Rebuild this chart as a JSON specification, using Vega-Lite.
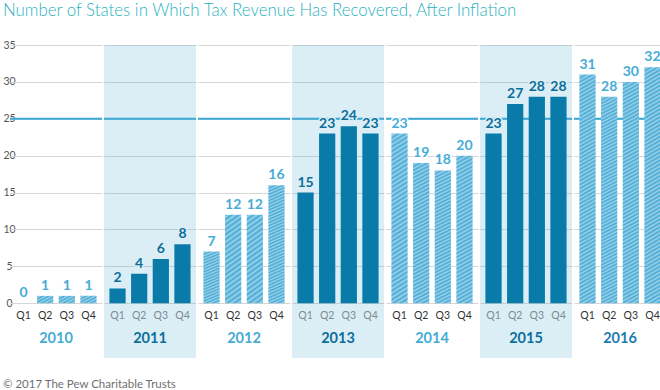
{
  "$schema": "https://vega.github.io/schema/vega-lite/v6.json",
  "padding": {"left": 2, "top": 2, "right": 0, "bottom": 0},
  "title": {"text": "Number of States in Which Tax Revenue Has Recovered, After Inflation", "anchor": "start", "frame": "bounds", "font": "Lato", "fontSize": 16.9, "fontWeight": 300, "color": "#2bb2c0", "offset": 20},
  "data": {"values": [
    {"year": 2010, "q": "Q1", "v": 0}, {"year": 2010, "q": "Q2", "v": 1}, {"year": 2010, "q": "Q3", "v": 1}, {"year": 2010, "q": "Q4", "v": 1},
    {"year": 2011, "q": "Q1", "v": 2}, {"year": 2011, "q": "Q2", "v": 4}, {"year": 2011, "q": "Q3", "v": 6}, {"year": 2011, "q": "Q4", "v": 8},
    {"year": 2012, "q": "Q1", "v": 7}, {"year": 2012, "q": "Q2", "v": 12}, {"year": 2012, "q": "Q3", "v": 12}, {"year": 2012, "q": "Q4", "v": 16},
    {"year": 2013, "q": "Q1", "v": 15}, {"year": 2013, "q": "Q2", "v": 23}, {"year": 2013, "q": "Q3", "v": 24}, {"year": 2013, "q": "Q4", "v": 23},
    {"year": 2014, "q": "Q1", "v": 23}, {"year": 2014, "q": "Q2", "v": 19}, {"year": 2014, "q": "Q3", "v": 18}, {"year": 2014, "q": "Q4", "v": 20},
    {"year": 2015, "q": "Q1", "v": 23}, {"year": 2015, "q": "Q2", "v": 27}, {"year": 2015, "q": "Q3", "v": 28}, {"year": 2015, "q": "Q4", "v": 28},
    {"year": 2016, "q": "Q1", "v": 31}, {"year": 2016, "q": "Q2", "v": 28}, {"year": 2016, "q": "Q3", "v": 30}, {"year": 2016, "q": "Q4", "v": 32}
  ]},
  "vconcat": [{
    "title": {"text": "© 2017 The Pew Charitable Trusts", "orient": "bottom", "anchor": "start", "frame": "bounds", "font": "Lato", "fontSize": 11.5, "fontWeight": "normal", "color": "#6f6f6f", "offset": 21},
    "facet": {"column": {"field": "year", "type": "ordinal", "header": null}},
    "spacing": 0,
    "spec": {
      "width": 92,
      "height": 313,
      "layer": [
        {
          "transform": [{"filter": "datum.year % 2 == 1 && datum.q == 'Q1'"}],
          "mark": {"type": "rect", "fill": "#4aa8d0", "fillOpacity": 0.2},
          "encoding": {"y": {"datum": 35}, "y2": {"datum": -7.42}}
        },
        {
          "transform": [{"filter": "datum.q == 'Q1'"}],
          "mark": {"type": "rule", "color": "#3aa8d4", "strokeWidth": 2},
          "encoding": {"y": {"datum": 25}}
        },
        {
          "mark": {"type": "bar"},
          "encoding": {
            "x": {"field": "q", "type": "nominal", "axis": null, "scale": {"paddingInner": 0.25, "paddingOuter": 0.25}},
            "y": {"field": "v", "type": "quantitative", "scale": {"domain": [-7.42, 35], "nice": false},
                  "axis": {"values": [0, 5, 10, 15, 20, 25, 30, 35], "title": null, "grid": true, "gridColor": "#d6d6d6", "domain": false, "ticks": false, "tickSize": 0, "labelAlign": "center", "labelPadding": 0, "labelFont": "Lato", "labelFontSize": 10.5, "labelColor": "#555555"}},
            "y2": {"datum": 0},
            "fill": {"condition": [
              {"test": "datum.year % 2 == 1", "value": "#0a7ba9"},
              {"test": "datum.v >= 25", "value": {"gradient": "linear", "x1": 0, "y1": 0, "x2": 0.0415, "y2": 1.0383, "stops": [
                {"offset": 0, "color": "#45a9d4"}, {"offset": 0.008, "color": "#9dd2ea"}, {"offset": 0.016, "color": "#45a9d4"}, {"offset": 0.024, "color": "#9dd2ea"}, {"offset": 0.032, "color": "#45a9d4"}, {"offset": 0.04, "color": "#9dd2ea"}, {"offset": 0.048, "color": "#45a9d4"}, {"offset": 0.056, "color": "#9dd2ea"}, {"offset": 0.064, "color": "#45a9d4"}, {"offset": 0.072, "color": "#9dd2ea"},
                {"offset": 0.08, "color": "#45a9d4"}, {"offset": 0.088, "color": "#9dd2ea"}, {"offset": 0.096, "color": "#45a9d4"}, {"offset": 0.104, "color": "#9dd2ea"}, {"offset": 0.112, "color": "#45a9d4"}, {"offset": 0.12, "color": "#9dd2ea"}, {"offset": 0.128, "color": "#45a9d4"}, {"offset": 0.136, "color": "#9dd2ea"}, {"offset": 0.144, "color": "#45a9d4"}, {"offset": 0.152, "color": "#9dd2ea"},
                {"offset": 0.16, "color": "#45a9d4"}, {"offset": 0.168, "color": "#9dd2ea"}, {"offset": 0.176, "color": "#45a9d4"}, {"offset": 0.184, "color": "#9dd2ea"}, {"offset": 0.192, "color": "#45a9d4"}, {"offset": 0.2, "color": "#9dd2ea"}, {"offset": 0.208, "color": "#45a9d4"}, {"offset": 0.216, "color": "#9dd2ea"}, {"offset": 0.224, "color": "#45a9d4"}, {"offset": 0.232, "color": "#9dd2ea"},
                {"offset": 0.24, "color": "#45a9d4"}, {"offset": 0.248, "color": "#9dd2ea"}, {"offset": 0.256, "color": "#45a9d4"}, {"offset": 0.264, "color": "#9dd2ea"}, {"offset": 0.272, "color": "#45a9d4"}, {"offset": 0.28, "color": "#9dd2ea"}, {"offset": 0.288, "color": "#45a9d4"}, {"offset": 0.296, "color": "#9dd2ea"}, {"offset": 0.304, "color": "#45a9d4"}, {"offset": 0.312, "color": "#9dd2ea"},
                {"offset": 0.32, "color": "#45a9d4"}, {"offset": 0.328, "color": "#9dd2ea"}, {"offset": 0.336, "color": "#45a9d4"}, {"offset": 0.344, "color": "#9dd2ea"}, {"offset": 0.352, "color": "#45a9d4"}, {"offset": 0.36, "color": "#9dd2ea"}, {"offset": 0.368, "color": "#45a9d4"}, {"offset": 0.376, "color": "#9dd2ea"}, {"offset": 0.384, "color": "#45a9d4"}, {"offset": 0.392, "color": "#9dd2ea"},
                {"offset": 0.4, "color": "#45a9d4"}, {"offset": 0.408, "color": "#9dd2ea"}, {"offset": 0.416, "color": "#45a9d4"}, {"offset": 0.424, "color": "#9dd2ea"}, {"offset": 0.432, "color": "#45a9d4"}, {"offset": 0.44, "color": "#9dd2ea"}, {"offset": 0.448, "color": "#45a9d4"}, {"offset": 0.456, "color": "#9dd2ea"}, {"offset": 0.464, "color": "#45a9d4"}, {"offset": 0.472, "color": "#9dd2ea"},
                {"offset": 0.48, "color": "#45a9d4"}, {"offset": 0.488, "color": "#9dd2ea"}, {"offset": 0.496, "color": "#45a9d4"}, {"offset": 0.504, "color": "#9dd2ea"}, {"offset": 0.512, "color": "#45a9d4"}, {"offset": 0.52, "color": "#9dd2ea"}, {"offset": 0.528, "color": "#45a9d4"}, {"offset": 0.536, "color": "#9dd2ea"}, {"offset": 0.544, "color": "#45a9d4"}, {"offset": 0.552, "color": "#9dd2ea"},
                {"offset": 0.56, "color": "#45a9d4"}, {"offset": 0.568, "color": "#9dd2ea"}, {"offset": 0.576, "color": "#45a9d4"}, {"offset": 0.584, "color": "#9dd2ea"}, {"offset": 0.592, "color": "#45a9d4"}, {"offset": 0.6, "color": "#9dd2ea"}, {"offset": 0.608, "color": "#45a9d4"}, {"offset": 0.616, "color": "#9dd2ea"}, {"offset": 0.624, "color": "#45a9d4"}, {"offset": 0.632, "color": "#9dd2ea"},
                {"offset": 0.64, "color": "#45a9d4"}, {"offset": 0.648, "color": "#9dd2ea"}, {"offset": 0.656, "color": "#45a9d4"}, {"offset": 0.664, "color": "#9dd2ea"}, {"offset": 0.672, "color": "#45a9d4"}, {"offset": 0.68, "color": "#9dd2ea"}, {"offset": 0.688, "color": "#45a9d4"}, {"offset": 0.696, "color": "#9dd2ea"}, {"offset": 0.704, "color": "#45a9d4"}, {"offset": 0.712, "color": "#9dd2ea"},
                {"offset": 0.72, "color": "#45a9d4"}, {"offset": 0.728, "color": "#9dd2ea"}, {"offset": 0.736, "color": "#45a9d4"}, {"offset": 0.744, "color": "#9dd2ea"}, {"offset": 0.752, "color": "#45a9d4"}, {"offset": 0.76, "color": "#9dd2ea"}, {"offset": 0.768, "color": "#45a9d4"}, {"offset": 0.776, "color": "#9dd2ea"}, {"offset": 0.784, "color": "#45a9d4"}, {"offset": 0.792, "color": "#9dd2ea"},
                {"offset": 0.8, "color": "#45a9d4"}, {"offset": 0.808, "color": "#9dd2ea"}, {"offset": 0.816, "color": "#45a9d4"}, {"offset": 0.824, "color": "#9dd2ea"}, {"offset": 0.832, "color": "#45a9d4"}, {"offset": 0.84, "color": "#9dd2ea"}, {"offset": 0.848, "color": "#45a9d4"}, {"offset": 0.856, "color": "#9dd2ea"}, {"offset": 0.864, "color": "#45a9d4"}, {"offset": 0.872, "color": "#9dd2ea"},
                {"offset": 0.88, "color": "#45a9d4"}, {"offset": 0.888, "color": "#9dd2ea"}, {"offset": 0.896, "color": "#45a9d4"}, {"offset": 0.904, "color": "#9dd2ea"}, {"offset": 0.912, "color": "#45a9d4"}, {"offset": 0.92, "color": "#9dd2ea"}, {"offset": 0.928, "color": "#45a9d4"}, {"offset": 0.936, "color": "#9dd2ea"}, {"offset": 0.944, "color": "#45a9d4"}, {"offset": 0.952, "color": "#9dd2ea"},
                {"offset": 0.96, "color": "#45a9d4"}, {"offset": 0.968, "color": "#9dd2ea"}, {"offset": 0.976, "color": "#45a9d4"}, {"offset": 0.984, "color": "#9dd2ea"}, {"offset": 0.992, "color": "#45a9d4"}, {"offset": 1, "color": "#9dd2ea"}
              ]}},
              {"test": "datum.v >= 15", "value": {"gradient": "linear", "x1": 0, "y1": 0, "x2": 0.0634, "y2": 1.0562, "stops": [
                {"offset": 0, "color": "#45a9d4"}, {"offset": 0.0125, "color": "#9dd2ea"}, {"offset": 0.025, "color": "#45a9d4"}, {"offset": 0.0375, "color": "#9dd2ea"}, {"offset": 0.05, "color": "#45a9d4"}, {"offset": 0.0625, "color": "#9dd2ea"}, {"offset": 0.075, "color": "#45a9d4"}, {"offset": 0.0875, "color": "#9dd2ea"},
                {"offset": 0.1, "color": "#45a9d4"}, {"offset": 0.1125, "color": "#9dd2ea"}, {"offset": 0.125, "color": "#45a9d4"}, {"offset": 0.1375, "color": "#9dd2ea"}, {"offset": 0.15, "color": "#45a9d4"}, {"offset": 0.1625, "color": "#9dd2ea"}, {"offset": 0.175, "color": "#45a9d4"}, {"offset": 0.1875, "color": "#9dd2ea"},
                {"offset": 0.2, "color": "#45a9d4"}, {"offset": 0.2125, "color": "#9dd2ea"}, {"offset": 0.225, "color": "#45a9d4"}, {"offset": 0.2375, "color": "#9dd2ea"}, {"offset": 0.25, "color": "#45a9d4"}, {"offset": 0.2625, "color": "#9dd2ea"}, {"offset": 0.275, "color": "#45a9d4"}, {"offset": 0.2875, "color": "#9dd2ea"},
                {"offset": 0.3, "color": "#45a9d4"}, {"offset": 0.3125, "color": "#9dd2ea"}, {"offset": 0.325, "color": "#45a9d4"}, {"offset": 0.3375, "color": "#9dd2ea"}, {"offset": 0.35, "color": "#45a9d4"}, {"offset": 0.3625, "color": "#9dd2ea"}, {"offset": 0.375, "color": "#45a9d4"}, {"offset": 0.3875, "color": "#9dd2ea"},
                {"offset": 0.4, "color": "#45a9d4"}, {"offset": 0.4125, "color": "#9dd2ea"}, {"offset": 0.425, "color": "#45a9d4"}, {"offset": 0.4375, "color": "#9dd2ea"}, {"offset": 0.45, "color": "#45a9d4"}, {"offset": 0.4625, "color": "#9dd2ea"}, {"offset": 0.475, "color": "#45a9d4"}, {"offset": 0.4875, "color": "#9dd2ea"},
                {"offset": 0.5, "color": "#45a9d4"}, {"offset": 0.5125, "color": "#9dd2ea"}, {"offset": 0.525, "color": "#45a9d4"}, {"offset": 0.5375, "color": "#9dd2ea"}, {"offset": 0.55, "color": "#45a9d4"}, {"offset": 0.5625, "color": "#9dd2ea"}, {"offset": 0.575, "color": "#45a9d4"}, {"offset": 0.5875, "color": "#9dd2ea"},
                {"offset": 0.6, "color": "#45a9d4"}, {"offset": 0.6125, "color": "#9dd2ea"}, {"offset": 0.625, "color": "#45a9d4"}, {"offset": 0.6375, "color": "#9dd2ea"}, {"offset": 0.65, "color": "#45a9d4"}, {"offset": 0.6625, "color": "#9dd2ea"}, {"offset": 0.675, "color": "#45a9d4"}, {"offset": 0.6875, "color": "#9dd2ea"},
                {"offset": 0.7, "color": "#45a9d4"}, {"offset": 0.7125, "color": "#9dd2ea"}, {"offset": 0.725, "color": "#45a9d4"}, {"offset": 0.7375, "color": "#9dd2ea"}, {"offset": 0.75, "color": "#45a9d4"}, {"offset": 0.7625, "color": "#9dd2ea"}, {"offset": 0.775, "color": "#45a9d4"}, {"offset": 0.7875, "color": "#9dd2ea"},
                {"offset": 0.8, "color": "#45a9d4"}, {"offset": 0.8125, "color": "#9dd2ea"}, {"offset": 0.825, "color": "#45a9d4"}, {"offset": 0.8375, "color": "#9dd2ea"}, {"offset": 0.85, "color": "#45a9d4"}, {"offset": 0.8625, "color": "#9dd2ea"}, {"offset": 0.875, "color": "#45a9d4"}, {"offset": 0.8875, "color": "#9dd2ea"},
                {"offset": 0.9, "color": "#45a9d4"}, {"offset": 0.9125, "color": "#9dd2ea"}, {"offset": 0.925, "color": "#45a9d4"}, {"offset": 0.9375, "color": "#9dd2ea"}, {"offset": 0.95, "color": "#45a9d4"}, {"offset": 0.9625, "color": "#9dd2ea"}, {"offset": 0.975, "color": "#45a9d4"}, {"offset": 0.9875, "color": "#9dd2ea"},
                {"offset": 1, "color": "#45a9d4"}
              ]}},
              {"test": "datum.v >= 3", "value": {"gradient": "linear", "x1": 0, "y1": 0, "x2": 0.1445, "y2": 1.1112, "stops": [
                {"offset": 0, "color": "#45a9d4"}, {"offset": 0.025, "color": "#9dd2ea"}, {"offset": 0.05, "color": "#45a9d4"}, {"offset": 0.075, "color": "#9dd2ea"}, {"offset": 0.1, "color": "#45a9d4"}, {"offset": 0.125, "color": "#9dd2ea"}, {"offset": 0.15, "color": "#45a9d4"}, {"offset": 0.175, "color": "#9dd2ea"},
                {"offset": 0.2, "color": "#45a9d4"}, {"offset": 0.225, "color": "#9dd2ea"}, {"offset": 0.25, "color": "#45a9d4"}, {"offset": 0.275, "color": "#9dd2ea"}, {"offset": 0.3, "color": "#45a9d4"}, {"offset": 0.325, "color": "#9dd2ea"}, {"offset": 0.35, "color": "#45a9d4"}, {"offset": 0.375, "color": "#9dd2ea"},
                {"offset": 0.4, "color": "#45a9d4"}, {"offset": 0.425, "color": "#9dd2ea"}, {"offset": 0.45, "color": "#45a9d4"}, {"offset": 0.475, "color": "#9dd2ea"}, {"offset": 0.5, "color": "#45a9d4"}, {"offset": 0.525, "color": "#9dd2ea"}, {"offset": 0.55, "color": "#45a9d4"}, {"offset": 0.575, "color": "#9dd2ea"},
                {"offset": 0.6, "color": "#45a9d4"}, {"offset": 0.625, "color": "#9dd2ea"}, {"offset": 0.65, "color": "#45a9d4"}, {"offset": 0.675, "color": "#9dd2ea"}, {"offset": 0.7, "color": "#45a9d4"}, {"offset": 0.725, "color": "#9dd2ea"}, {"offset": 0.75, "color": "#45a9d4"}, {"offset": 0.775, "color": "#9dd2ea"},
                {"offset": 0.8, "color": "#45a9d4"}, {"offset": 0.825, "color": "#9dd2ea"}, {"offset": 0.85, "color": "#45a9d4"}, {"offset": 0.875, "color": "#9dd2ea"}, {"offset": 0.9, "color": "#45a9d4"}, {"offset": 0.925, "color": "#9dd2ea"}, {"offset": 0.95, "color": "#45a9d4"}, {"offset": 0.975, "color": "#9dd2ea"},
                {"offset": 1, "color": "#45a9d4"}
              ]}}
            ], "value": {"gradient": "linear", "x1": 0, "y1": 0, "x2": 1.082, "y2": 0.9016, "stops": [
                {"offset": 0, "color": "#45a9d4"}, {"offset": 0.1, "color": "#9dd2ea"}, {"offset": 0.2, "color": "#45a9d4"}, {"offset": 0.3, "color": "#9dd2ea"}, {"offset": 0.4, "color": "#45a9d4"}, {"offset": 0.5, "color": "#9dd2ea"},
                {"offset": 0.6, "color": "#45a9d4"}, {"offset": 0.7, "color": "#9dd2ea"}, {"offset": 0.8, "color": "#45a9d4"}, {"offset": 0.9, "color": "#9dd2ea"}, {"offset": 1, "color": "#45a9d4"}
            ]}}
          }
        },
        {
          "mark": {"type": "text", "baseline": "bottom", "dy": -3, "font": "Lato", "fontWeight": "bold", "fontSize": 14, "strokeWidth": 3, "strokeJoin": "round"},
          "encoding": {
            "x": {"field": "q", "type": "nominal"},
            "y": {"field": "v", "type": "quantitative"},
            "text": {"field": "v", "type": "quantitative"},
            "stroke": {"condition": {"test": "datum.year % 2 == 1", "value": "#dbeef5"}, "value": "#ffffff"},
            "fill": {"condition": {"test": "datum.year % 2 == 1", "value": "#0c6e9b"}, "value": "#45acd6"}
          }
        },
        {
          "mark": {"type": "text", "baseline": "bottom", "dy": -3, "font": "Lato", "fontWeight": "bold", "fontSize": 14},
          "encoding": {
            "x": {"field": "q", "type": "nominal"},
            "y": {"field": "v", "type": "quantitative"},
            "text": {"field": "v", "type": "quantitative"},
            "fill": {"condition": {"test": "datum.year % 2 == 1", "value": "#0c6e9b"}, "value": "#45acd6"}
          }
        },
        {
          "mark": {"type": "text", "baseline": "middle", "font": "Lato", "fontSize": 10.5},
          "encoding": {
            "x": {"field": "q", "type": "nominal"},
            "y": {"datum": -1.7},
            "text": {"field": "q", "type": "nominal"},
            "fill": {"condition": {"test": "datum.year % 2 == 1", "value": "#7b8b92"}, "value": "#333333"}
          }
        },
        {
          "transform": [{"filter": "datum.q == 'Q1'"}],
          "mark": {"type": "text", "baseline": "middle", "font": "Lato", "fontWeight": "bold", "fontSize": 14.5},
          "encoding": {
            "y": {"datum": -4.9},
            "text": {"field": "year", "type": "nominal"},
            "fill": {"condition": [{"test": "datum.year == 2016", "value": "#1c7db3"}, {"test": "datum.year % 2 == 1", "value": "#0c6e9b"}], "value": "#45acd6"}
          }
        }
      ]
    }
  }],
  "config": {"view": {"stroke": null}}
}
